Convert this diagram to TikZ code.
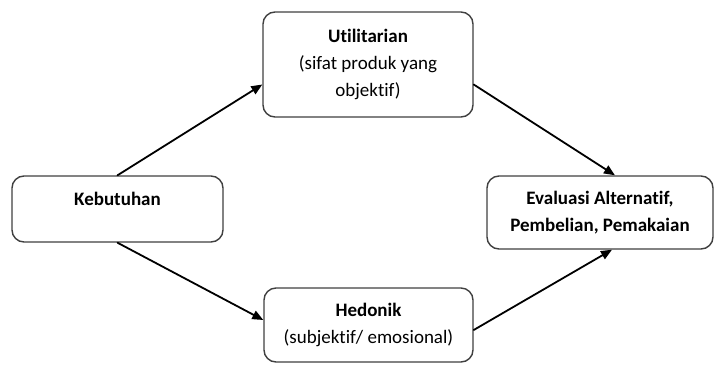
\documentclass[tikz,border=0pt]{standalone}
\usepackage{fontspec}
\setmainfont{Carlito}[Ligatures=NoCommon]
\usetikzlibrary{arrows.meta}

\begin{document}
\begin{tikzpicture}[x=1pt, y=-1pt, line cap=round, line join=round,
  kotak/.style={draw=black!75, line width=1.4pt, rounded corners=12pt, fill=white,
    align=center, inner sep=0pt, font=\fontsize{19}{27}\selectfont},
  panah/.style={draw=black, line width=1.8pt, -{Triangle[length=11pt,width=9pt]}}]

  %% ════ kotak ════
  \node[kotak, minimum width=211pt, minimum height=66pt]  (kebutuhan)   at (117.5,209.0) {\textbf{Kebutuhan}\\[-6pt]{}};
  \node[kotak, minimum width=210pt, minimum height=105pt] (utilitarian) at (368.0,64.5)  {\textbf{Utilitarian}\\(sifat produk yang\\objektif)};
  \node[kotak, minimum width=209pt, minimum height=74pt]  (hedonik)     at (368.5,325.0) {\textbf{Hedonik}\\(subjektif/ emosional)};
  \node[kotak, minimum width=226pt, minimum height=73pt]  (evaluasi)    at (600.0,212.5) {\textbf{Evaluasi Alternatif,}\\\textbf{Pembelian, Pemakaian}};

  %% ════ panah ════
  \draw[panah] (kebutuhan.north) -- ([yshift=-20pt]utilitarian.west);
  \draw[panah] (kebutuhan.south) -- ([yshift=5pt]hedonik.west);
  \draw[panah] ([yshift=-20pt]utilitarian.east) -- ([xshift=15pt]evaluasi.north);
  \draw[panah] ([yshift=-5pt]hedonik.east) -- ([xshift=12pt]evaluasi.south);

  % kanvas
  \pgfresetboundingbox
  \path[use as bounding box] (0,0) rectangle (716,365);
\end{tikzpicture}
\end{document}
